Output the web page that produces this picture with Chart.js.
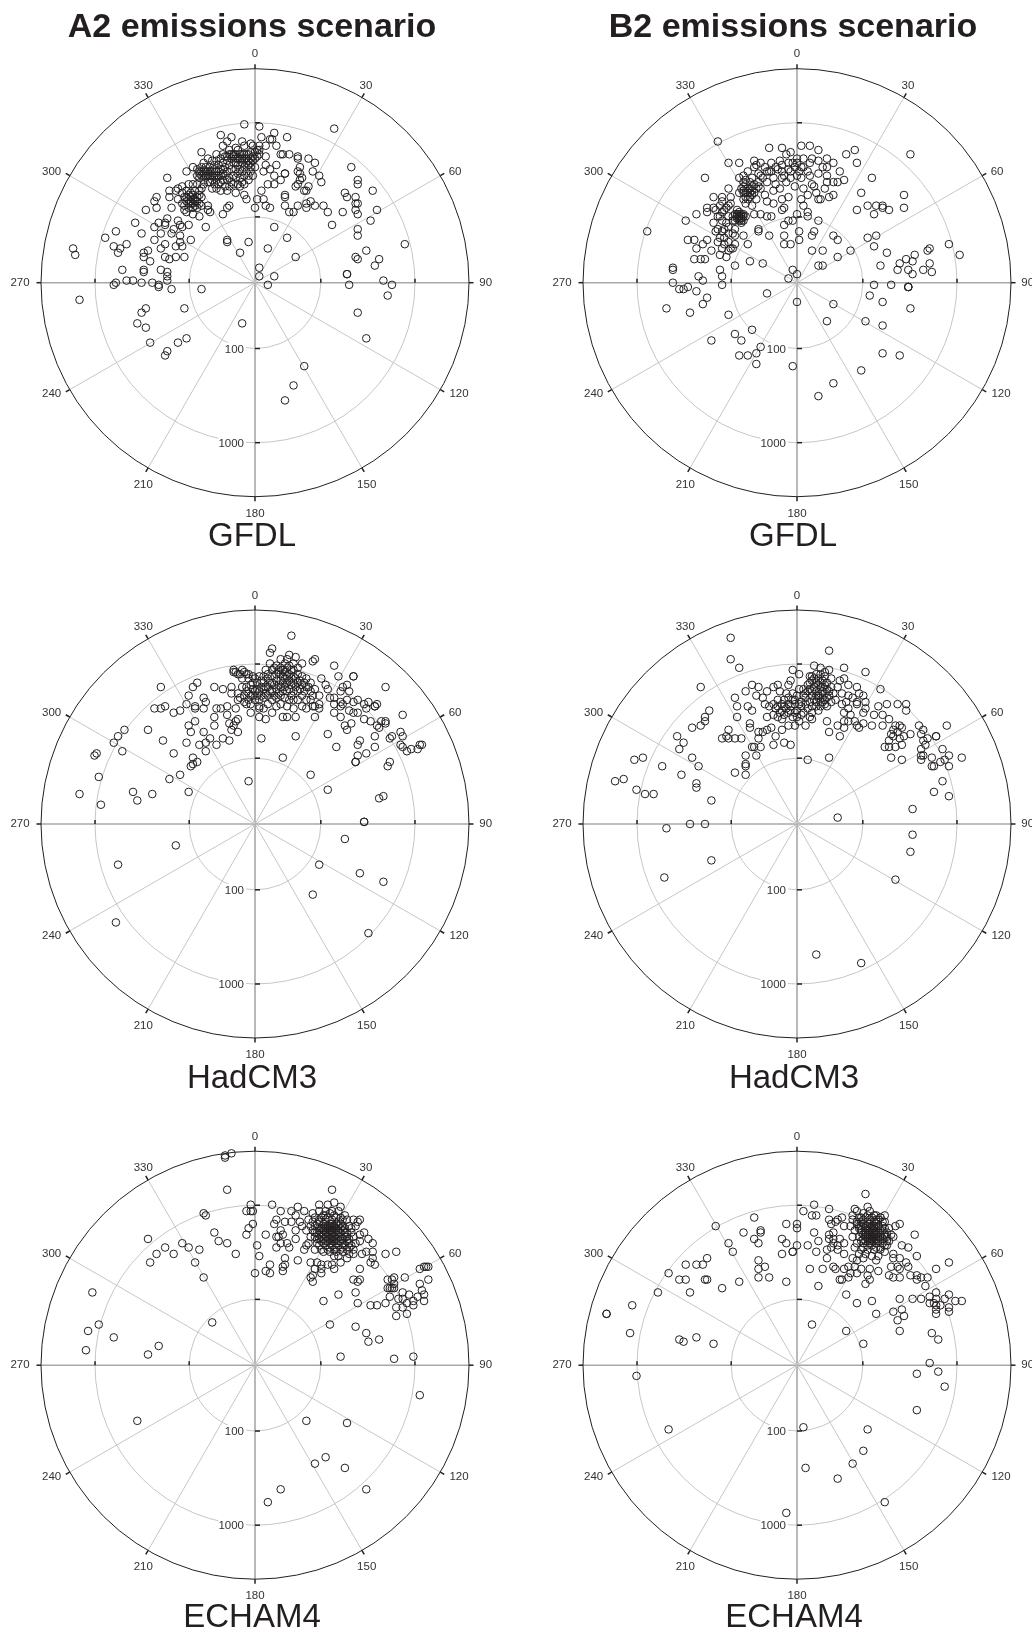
<!DOCTYPE html>
<html>
<head>
<meta charset="utf-8">
<title>Emissions scenarios</title>
<script src="https://cdn.jsdelivr.net/npm/chart.js@4"></script>
<style>
  html, body { margin: 0; padding: 0; background: #fff; }
  #page { position: relative; width: 1032px; height: 1633px; overflow: hidden; font-family: "Liberation Sans", sans-serif; color: #231f20; }
  #page canvas { position: absolute; }
  .titulo, .modelo { position: absolute; width: 516px; text-align: center; line-height: 1; white-space: nowrap; }
  .titulo { font-weight: bold; font-size: 34px; }
  .modelo { font-size: 33px; }
</style>
</head>
<body>
<div id="page"></div>
<script>
// Rotulos
const scenarios = ['A2 emissions scenario', 'B2 emissions scenario'];
const models = ['GFDL', 'HadCM3', 'ECHAM4'];
const angleTicks = [0, 30, 60, 90, 120, 150, 180, 210, 240, 270, 300, 330];
const ringValues = [100, 1000];

// Valores: [leste, norte] em % do raio do grafico
const a2Gfdl = [[-5,74],[2,73],[37,72],[-16,69],[-11,68],[-6,66],[3,68],[9,70],[8,67],[15,68],[7,67],[-13,66],[-15,64],[-25,61],[10,64],[5,64],[2,64],[-2,65],[-1,64],[-5,64],[-9,63],[-8,62],[-10,60],[-12,62],[-3,60],[0,61],[2,62],[5,59],[12,60],[13,60],[16,60],[20,59],[20,58],[25,58],[28,56],[27,52],[30,50],[31,47],[21,54],[20,52],[21,51],[22,49],[21,48],[20,46],[19,45],[25,45],[23,43],[24,43],[14,51],[14,51],[10,55],[5,55],[7,53],[4,52],[9,50],[12,48],[6,46],[9,46],[14,41],[14,40],[3,43],[1,39],[4,39],[5,36],[7,35],[14,36],[16,33],[18,33],[20,36],[24,37],[26,38],[24,35],[28,36],[32,36],[34,33],[41,33],[36,27],[45,54],[48,48],[48,46],[42,42],[43,40],[47,40],[55,43],[47,37],[48,37],[47,34],[48,32],[57,34],[54,29],[48,25],[48,22],[70,18],[52,15],[47,12],[48,11],[58,11],[56,8],[43,4],[43,4],[60,1],[64,-1],[44,-1],[62,-6],[48,-14],[52,-26],[23,-39],[18,-48],[14,-55],[-6,-19],[-25,-3],[-33,-12],[9,26],[15,21],[6,16],[19,12],[2,7],[2,3],[9,3],[6,-1],[-3,19],[-7,14],[-13,20],[-13,19],[0,35],[-4,39],[-5,41],[-9,42],[-12,36],[-13,35],[-15,32],[-23,26],[-21,33],[-22,34],[-22,36],[-26,31],[-29,32],[-32,33],[-30,37],[-29,39],[-27,38],[-33,36],[-31,41],[-26,43],[-34,45],[-36,44],[-37,43],[-40,43],[-40,40],[-41,49],[-32,52],[-29,54],[-36,39],[-39,35],[-46,40],[-47,38],[-46,35],[-51,34],[-56,28],[-65,24],[-70,21],[-53,23],[-47,26],[-45,28],[-42,28],[-42,27],[-41,30],[-36,29],[-35,27],[-34,26],[-38,25],[-39,23],[-31,27],[-35,22],[-44,23],[-47,20],[-30,20],[-35,19],[-34,17],[-37,17],[-33,12],[-37,12],[-42,18],[-44,16],[-50,15],[-52,14],[-52,12],[-60,18],[-66,17],[-63,16],[-64,14],[-42,12],[-40,11],[-49,10],[-52,6],[-52,5],[-62,6],[-44,6],[-41,5],[-41,3],[-60,1],[-57,1],[-65,0],[-66,-1],[-53,0],[-48,0],[-45,-1],[-45,-2],[-41,1],[-39,-3],[-85,16],[-84,13],[-82,-8],[-51,-12],[-53,-14],[-55,-19],[-51,-21],[-49,-28],[-36,-28],[-32,-26],[-41,-32],[-42,-34],[-27,53],[-26,52],[-27,50],[-25,54],[-25,50],[-24,52],[-24,48],[-23,54],[-23,50],[-22,47],[-22,52],[-26,49],[-24,46],[-21,54],[-21,50],[-21,47],[-20,52],[-20,48],[-20,44],[-19,55],[-19,50],[-19,46],[-18,57],[-18,52],[-18,48],[-18,44],[-17,55],[-17,50],[-17,46],[-16,58],[-16,53],[-16,47],[-16,43],[-15,60],[-15,56],[-15,51],[-14,59],[-14,54],[-14,45],[-13,57],[-13,52],[-13,48],[-13,43],[-12,60],[-12,55],[-12,49],[-12,45],[-11,58],[-11,53],[-11,47],[-10,56],[-10,50],[-10,46],[-9,58],[-9,53],[-9,49],[-8,55],[-8,51],[-8,46],[-7,58],[-7,53],[-7,49],[-7,45],[-6,56],[-6,52],[-6,47],[-5,58],[-5,54],[-5,50],[-5,46],[-4,56],[-4,52],[-3,55],[-3,50],[-3,48],[-2,58],[-2,54],[-2,52],[-1,57],[-1,50],[0,58],[0,54],[1,59],[1,62],[2,60],[-4,60],[-2,61],[-6,60],[-9,60],[-24,56],[-22,58],[-20,57],[-18,60],[-34,42],[-33,40],[-32,38],[-31,39],[-30,42],[-30,38],[-29,35],[-29,41],[-28,39],[-28,36],[-27,35],[-26,37],[-26,41],[-25,36],[-25,40],[-31,35],[-33,34],[-34,37],[-32,43],[-28,43],[-27,46],[-29,46],[-31,46],[-25,44],[-26,51],[-25,52],[-24,50],[-23,52],[-22,50],[-21,52],[-20,50],[-19,53],[-18,50],[-17,52],[-16,50],[-15,53],[-15,48],[-14,50],[-10,59],[-9,56],[-8,58],[-7,60],[-6,58],[-5,60],[-4,58],[-3,57],[-2,56],[-1,59],[-13,59],[-11,60],[-30,40],[-29,37],[-28,38],[-27,40],[-32,40],[-31,37]];

const b2Gfdl = [[-37,66],[-13,63],[-7,63],[-5,60],[-3,61],[2,64],[6,64],[10,62],[27,62],[23,60],[28,56],[53,60],[-32,56],[-27,56],[-43,49],[35,49],[30,42],[50,41],[50,35],[28,34],[33,36],[37,36],[40,36],[40,35],[43,34],[36,32],[22,48],[20,52],[19,47],[17,56],[14,58],[14,54],[12,54],[10,57],[7,58],[6,56],[3,58],[0,58],[17,47],[14,47],[14,50],[10,51],[7,46],[8,45],[13,44],[9,42],[10,39],[11,39],[15,40],[17,41],[5,41],[2,39],[3,36],[5,33],[5,31],[0,32],[10,29],[-2,29],[-4,29],[-6,27],[1,24],[1,20],[8,24],[7,22],[17,22],[19,20],[25,15],[7,15],[12,15],[19,12],[10,8],[12,8],[-6,22],[-6,18],[-3,18],[-2,6],[0,4],[-4,2],[-14,-5],[0,-9],[17,-10],[14,-18],[32,-18],[40,-20],[40,-9],[34,-6],[36,-1],[44,-1],[52,-2],[52,-2],[52,-2],[53,-12],[40,-33],[48,-34],[30,-41],[17,-47],[10,-53],[-2,-39],[-19,-38],[-19,-33],[-17,-30],[-23,-34],[-27,-34],[-26,-27],[-29,-24],[-21,-22],[-40,-27],[-32,-15],[-44,-10],[-42,-7],[-50,-14],[-61,-12],[-47,-4],[-51,-2],[-53,-3],[-55,-3],[-58,0],[-58,7],[-58,6],[-46,3],[-44,1],[-35,-1],[-35,3],[-36,6],[-29,8],[-22,10],[-16,9],[33,21],[37,22],[36,17],[42,14],[39,8],[71,18],[76,13],[62,16],[61,15],[55,13],[51,11],[54,10],[48,9],[62,9],[47,6],[52,6],[54,4],[59,6],[63,5],[-70,24],[-52,29],[-47,32],[-51,20],[-48,20],[-47,16],[-44,18],[-42,20],[-40,15],[-48,11],[-45,11],[-43,11],[-39,40],[-35,40],[-32,44],[-31,40],[-42,35],[-42,33],[-39,35],[-38,34],[-36,36],[-35,38],[-32,36],[-31,37],[-35,33],[-32,31],[-39,28],[-37,25],[-35,24],[-33,28],[-38,24],[-34,21],[-32,23],[-29,25],[-29,22],[-37,19],[-35,16],[-36,13],[-33,12],[-32,15],[-30,16],[-29,18],[-32,19],[-25,22],[-23,18],[-26,29],[-28,31],[-27,33],[-25,32],[-25,29],[-29,32],[-29,29],[-30,29],[-27,30],[-26,31],[-28,34],[-24,31],[-27,31],[-26,30],[-28,30],[-20,57],[-19,55],[-20,54],[-17,56],[-12,56],[-8,57],[-7,55],[-4,56],[-27,49],[-25,50],[-23,52],[-21,49],[-24,48],[-25,45],[-27,42],[-25,39],[-23,44],[-22,40],[-24,37],[-21,36],[-19,39],[-20,32],[-17,32],[-14,31],[-12,31],[-18,25],[-18,24],[-13,22],[-7,34],[-6,35],[-7,39],[-4,40],[-14,38],[-11,37],[-15,41],[-17,44],[-16,49],[-14,47],[-11,49],[-10,46],[-7,49],[-5,47],[-3,49],[0,50],[1,52],[3,54],[6,50],[2,49],[-1,45],[3,44],[-8,44],[-11,43],[-13,52],[-10,54],[-7,52],[-4,53],[-1,54],[0,56],[-15,54],[-18,51],[-18,47],[-21,45],[-20,42],[-22,47],[-25,42],[-24,40],[-23,39],[-21,41],[-24,42],[-24,46],[-23,42],[-22,44],[-22,42],[-21,43],[-20,46],[-19,44],[-18,45],[-25,47],[-26,44],[-25,43],[-17,50],[-14,52],[-12,52],[-9,53],[-6,50],[-3,52],[-2,56],[2,54],[5,52],[-28,32],[-27,32],[-26,32],[-25,31],[-27,29],[-26,28],[-30,31],[-34,34],[-33,35],[-36,31],[-37,31],[-35,29],[-32,26],[-34,25],[-30,23],[-34,18],[-31,16],[-36,21]];

const a2Had = [[17,88],[7,80],[8,82],[37,74],[39,69],[27,76],[28,77],[46,69],[46,69],[61,64],[43,65],[41,64],[69,51],[68,43],[69,41],[64,41],[63,40],[68,37],[69,36],[71,34],[73,35],[76,35],[77,37],[78,37],[56,41],[56,36],[52,33],[49,39],[48,37],[48,32],[47,29],[47,29],[63,29],[62,27],[60,13],[58,12],[51,1],[51,1],[42,-7],[30,-19],[49,-23],[60,-27],[27,-33],[53,-51],[34,16],[26,23],[13,31],[-3,20],[19,41],[34,42],[38,36],[43,44],[42,46],[45,47],[3,40],[37,59],[40,57],[43,58],[46,57],[48,58],[53,57],[56,55],[57,56],[56,55],[52,54],[48,52],[44,53],[40,55],[37,52],[40,50],[51,49],[54,48],[57,46],[59,48],[61,47],[61,48],[58,45],[44,62],[40,62],[34,63],[31,68],[33,65],[35,59],[30,56],[27,55],[24,54],[28,50],[37,56],[41,56],[46,52],[51,56],[16,79],[19,78],[22,75],[15,77],[12,77],[7,75],[18,75],[20,73],[5,72],[8,72],[10,74],[12,73],[14,75],[16,74],[18,72],[10,70],[12,70],[14,71],[16,70],[18,69],[20,70],[22,69],[24,68],[26,66],[6,68],[8,69],[8,66],[10,67],[12,67],[14,68],[16,67],[18,66],[20,66],[22,65],[24,64],[26,62],[28,63],[30,60],[4,66],[4,63],[6,64],[8,62],[10,63],[12,64],[14,64],[16,63],[18,62],[20,62],[2,62],[0,62],[-2,60],[-3,58],[-4,62],[1,66],[2,69],[-1,69],[0,68],[-5,71],[-7,70],[-9,71],[-10,72],[-3,68],[-2,65],[0,58],[2,58],[4,59],[6,60],[8,58],[10,59],[12,60],[14,59],[16,58],[18,58],[20,58],[22,60],[24,58],[26,58],[28,55],[30,54],[-5,60],[-4,56],[-2,56],[2,54],[4,54],[6,56],[10,55],[12,56],[15,55],[18,54],[22,55],[2,50],[5,49],[8,52],[13,50],[15,50],[19,50],[-2,52],[2,55],[-6,72],[-10,71],[-8,70],[-3,70],[-19,64],[-15,63],[-11,64],[-11,61],[-8,61],[-7,59],[-5,57],[-8,58],[-9,54],[-13,55],[-16,54],[-18,54],[-8,49],[-9,48],[-12,47],[-10,46],[-11,44],[-8,43],[-13,51],[-19,50],[-19,46],[-27,66],[-29,64],[-31,60],[-24,59],[-23,57],[-32,56],[-28,55],[-24,54],[-28,54],[-44,64],[-42,55],[-44,54],[-47,54],[-38,52],[-35,53],[-28,48],[-31,46],[-30,43],[-24,43],[-50,44],[-43,39],[-32,38],[-26,37],[-23,38],[-21,40],[-18,37],[-15,40],[-12,39],[-23,34],[-38,33],[-29,31],[-27,29],[-29,28],[-30,27],[-35,23],[-40,21],[-31,15],[-48,14],[-57,15],[-55,11],[-61,44],[-64,41],[-66,38],[-62,34],[-74,33],[-75,32],[-73,22],[-82,14],[-72,9],[-37,-10],[-64,-19],[-65,-46],[11,71],[13,69],[15,69],[17,68],[13,66],[15,66],[17,65],[11,65],[9,65],[7,66],[5,64],[3,64],[7,62],[9,60],[11,61],[13,62],[15,62],[17,60],[19,64],[21,63],[23,62],[19,68],[21,67],[23,66],[25,64],[27,60],[1,60],[-1,60],[3,60],[5,61],[13,72],[15,73],[17,72],[11,72],[9,73],[6,70],[4,69],[3,67],[-4,64],[-6,64],[-6,68],[-4,70],[-1,66],[-3,61],[-1,63],[1,63]];

const b2Had = [[-31,87],[-31,77],[-27,73],[15,81],[-45,64],[32,71],[22,73],[39,63],[42,56],[47,56],[51,56],[51,53],[70,46],[65,41],[68,35],[71,32],[77,31],[69,30],[67,29],[71,27],[68,20],[64,15],[71,13],[54,7],[54,-5],[53,-13],[46,-26],[30,-65],[9,-61],[19,3],[5,30],[15,31],[20,41],[15,43],[14,48],[19,46],[32,54],[36,51],[40,51],[38,55],[43,49],[40,46],[46,46],[49,45],[44,42],[47,43],[50,41],[53,42],[43,39],[48,40],[41,36],[43,36],[46,36],[49,37],[44,31],[49,30],[57,46],[59,44],[58,42],[61,40],[65,41],[59,39],[60,37],[58,35],[58,32],[59,32],[58,30],[63,31],[63,27],[64,27],[45,44],[48,46],[45,41],[24,65],[28,64],[24,60],[29,61],[31,60],[22,68],[20,67],[19,64],[21,61],[23,57],[26,59],[28,57],[32,57],[21,56],[24,54],[28,56],[31,52],[22,52],[25,51],[22,48],[24,48],[28,46],[29,45],[31,47],[35,46],[22,45],[27,48],[8,74],[11,73],[15,72],[6,69],[9,70],[13,69],[16,68],[7,67],[10,68],[14,66],[5,65],[8,64],[11,64],[14,63],[17,61],[6,63],[9,62],[12,62],[15,60],[4,61],[7,60],[10,60],[14,59],[10,59],[12,59],[8,58],[11,57],[13,56],[6,57],[3,60],[1,63],[4,59],[14,55],[11,55],[10,53],[7,52],[6,50],[2,51],[7,49],[4,46],[-1,46],[-4,46],[1,48],[-2,72],[1,70],[-3,67],[-4,65],[-9,65],[-11,64],[-8,62],[-5,61],[-2,61],[0,60],[-4,59],[-1,58],[-6,58],[-9,58],[-11,56],[-7,56],[-4,56],[-1,56],[1,56],[-10,54],[-7,53],[-4,52],[0,53],[-13,55],[-8,52],[-11,51],[-14,50],[-7,49],[-2,50],[3,52],[-15,56],[-14,62],[-18,64],[-21,65],[-24,62],[-19,60],[-16,59],[-29,59],[-28,55],[-23,55],[-21,53],[-28,50],[-22,47],[-22,45],[-18,43],[-16,43],[-14,44],[-12,45],[-7,44],[-10,41],[-18,40],[-11,37],[-6,38],[-3,37],[-17,36],[-20,36],[-21,36],[-19,32],[-24,32],[-24,28],[-24,27],[-24,23],[-29,24],[-41,53],[-43,50],[-43,48],[-45,46],[-49,45],[-32,44],[-33,41],[-35,40],[-32,40],[-29,40],[-26,40],[-56,41],[-53,38],[-55,35],[-72,31],[-76,30],[-63,27],[-49,31],[-46,27],[-54,23],[-47,19],[-47,17],[-40,11],[-67,14],[-71,14],[-75,16],[-81,21],[-85,20],[-50,0],[-43,0],[-61,-2],[-40,-17],[-62,-25],[9,66],[11,66],[13,65],[12,67],[8,68],[6,66],[7,62],[5,62],[3,63],[9,60],[11,61],[13,61],[15,62],[16,64],[13,58],[9,57],[12,57],[7,55],[5,54],[9,55],[-3,55],[-5,54],[-2,58],[-6,55],[-9,55],[-3,53],[-6,51],[-9,50],[0,50],[-1,52],[2,55],[4,56],[2,57],[16,57],[18,58],[12,64],[10,65],[7,69],[11,70],[13,71]];

const a2Echam = [[-11,99],[-14,98],[-14,97],[-13,82],[36,82],[-76,34],[-73,19],[-78,16],[-66,13],[-79,7],[-45,9],[-50,5],[-20,20],[-55,-26],[24,-26],[43,-27],[33,-43],[28,-46],[42,-48],[52,-58],[12,-58],[6,-64],[77,-14],[74,4],[65,3],[40,4],[58,12],[53,11],[52,15],[47,18],[35,19],[32,30],[39,33],[47,34],[48,29],[54,28],[57,28],[61,29],[-50,59],[-49,48],[-46,52],[-42,55],[-38,52],[-34,57],[-31,55],[-26,54],[-28,48],[-24,41],[-24,71],[-23,70],[-19,62],[-17,58],[-13,57],[-9,52],[-4,72],[-2,72],[-1,72],[-2,75],[-1,66],[-3,64],[-4,61],[5,61],[1,56],[2,51],[0,43],[5,44],[7,43],[7,47],[8,75],[12,72],[10,68],[9,66],[14,67],[12,63],[17,72],[20,74],[19,70],[17,67],[21,67],[10,60],[11,60],[13,61],[12,57],[15,57],[16,55],[10,55],[14,50],[14,47],[13,46],[13,44],[20,49],[19,59],[19,63],[23,72],[23,54],[24,56],[22,65],[30,75],[34,75],[37,76],[40,74],[27,71],[30,72],[33,72],[36,72],[39,72],[42,70],[25,68],[28,69],[31,69],[34,69],[37,70],[40,69],[43,68],[46,68],[48,67],[26,65],[29,66],[32,66],[35,66],[38,66],[41,65],[44,65],[47,65],[24,63],[27,63],[30,63],[33,63],[36,63],[39,63],[42,62],[45,62],[26,60],[28,60],[31,60],[34,60],[37,60],[40,60],[43,60],[46,60],[25,57],[29,57],[32,57],[35,57],[38,57],[41,57],[44,57],[47,57],[28,54],[31,54],[34,54],[37,54],[40,54],[43,54],[46,54],[49,58],[29,62],[32,61],[35,61],[38,61],[31,64],[34,64],[37,64],[40,64],[33,58],[36,58],[39,58],[30,59],[33,65],[36,65],[39,67],[36,68],[33,68],[30,67],[27,67],[35,55],[38,55],[41,55],[44,55],[51,62],[53,59],[55,57],[49,61],[49,68],[55,53],[52,53],[50,52],[55,50],[56,47],[54,48],[61,52],[66,53],[46,52],[43,50],[39,51],[37,51],[40,48],[36,47],[37,45],[34,47],[31,47],[29,48],[26,48],[28,45],[31,45],[31,43],[27,42],[26,41],[27,39],[46,40],[49,40],[48,39],[49,45],[62,40],[64,40],[62,36],[63,36],[65,36],[63,32],[65,41],[70,41],[69,34],[72,33],[67,31],[66,27],[69,27],[71,24],[66,23],[71,29],[74,28],[74,30],[76,32],[77,38],[78,35],[79,33],[79,30],[77,45],[79,46],[81,46],[80,46],[81,40],[65,38],[64,36],[69,31],[32,70],[35,71],[38,69],[41,68],[30,68],[33,70],[28,65],[30,64],[33,64],[36,66],[39,65],[42,64],[45,64],[28,62],[31,62],[34,62],[37,62],[40,62],[43,62],[29,59],[32,59],[35,59],[38,59],[41,59],[44,59],[30,56],[33,56],[36,56],[39,56],[42,56],[45,56],[32,53],[35,53],[38,53],[41,53],[44,52],[30,61],[33,60],[36,60],[39,60],[42,60],[31,58],[34,58],[37,58],[40,58],[43,58],[32,64],[35,64],[38,64],[41,63],[33,62],[36,62],[39,62],[34,65],[37,65],[40,66],[36,59],[38,63],[35,63],[32,63]];

const b2Echam = [[32,80],[33,74],[55,61],[56,51],[71,48],[65,45],[61,41],[60,37],[65,34],[71,33],[77,30],[74,30],[69,31],[65,31],[62,32],[58,31],[54,31],[48,31],[62,29],[64,29],[65,28],[67,28],[65,26],[65,24],[71,27],[71,25],[45,25],[49,26],[50,23],[47,21],[48,16],[63,15],[66,12],[62,1],[56,-4],[66,-3],[69,-10],[56,-21],[33,-30],[31,-40],[26,-46],[19,-53],[4,-48],[3,-29],[41,-64],[-5,-69],[-60,-30],[-75,-5],[-39,10],[-47,13],[-53,11],[-55,12],[-78,15],[-89,24],[-89,24],[-77,28],[-65,34],[-50,34],[-55,40],[-52,40],[-43,40],[-42,40],[-35,36],[-27,39],[-60,43],[-52,47],[-47,47],[-44,47],[-42,50],[-38,65],[-32,57],[-30,53],[-25,62],[-20,69],[-17,63],[-17,62],[-20,59],[-18,57],[-7,59],[-5,57],[-5,66],[0,66],[0,64],[0,56],[-2,53],[-2,53],[-7,52],[-18,49],[-15,46],[-18,45],[-18,41],[-13,41],[-5,39],[3,72],[8,75],[9,70],[7,70],[15,73],[8,62],[5,56],[10,58],[9,53],[14,50],[6,45],[12,45],[10,37],[7,19],[23,16],[31,10],[23,33],[28,29],[35,30],[37,24],[17,46],[18,45],[22,45],[24,46],[27,46],[30,45],[25,43],[28,43],[24,41],[20,40],[21,40],[33,42],[34,40],[32,38],[34,45],[37,49],[38,44],[44,46],[43,42],[45,41],[48,41],[48,45],[47,46],[52,46],[53,42],[56,42],[56,40],[58,41],[51,48],[52,55],[49,56],[48,50],[45,50],[45,52],[45,60],[46,65],[48,66],[41,70],[39,69],[15,68],[16,66],[18,67],[21,69],[19,68],[22,65],[15,61],[17,62],[15,59],[17,59],[20,59],[17,57],[19,56],[22,57],[14,54],[16,55],[19,54],[22,52],[26,70],[27,73],[26,50],[31,50],[28,49],[28,72],[31,71],[34,72],[37,70],[26,68],[29,69],[32,69],[35,69],[38,68],[41,67],[25,65],[28,66],[31,66],[34,66],[37,66],[40,65],[43,64],[27,63],[30,63],[33,63],[36,63],[39,63],[42,62],[44,61],[26,60],[29,60],[32,60],[35,60],[38,60],[41,60],[43,58],[28,57],[31,57],[34,57],[37,57],[40,57],[42,56],[27,55],[30,54],[33,54],[36,54],[39,54],[41,53],[29,52],[32,52],[35,51],[38,51],[33,65],[36,65],[30,65],[33,61],[36,61],[39,61],[35,58],[38,58],[32,62],[29,64],[31,59],[34,59],[37,59],[34,62],[37,62],[33,67],[36,67],[30,67],[30,69],[33,70],[36,70],[39,69],[28,67],[31,68],[34,68],[37,68],[40,67],[29,65],[32,65],[35,65],[38,65],[41,64],[30,62],[32,64],[34,64],[36,64],[38,64],[40,63],[42,60],[31,61],[33,60],[35,62],[37,61],[39,60],[41,61],[30,58],[32,58],[34,58],[36,58],[38,59],[40,59],[42,58],[31,55],[33,56],[35,56],[37,55],[39,55],[41,56],[32,63],[34,63],[36,62],[38,62],[33,59],[35,59],[37,60],[36,60],[34,61],[32,61]];

// Raio (em %) de um valor na escala log do eixo radial
function raioDe(valor) {
  return 44 * Math.log10(valor / 20);
}

// Deslocamento em px de cada rotulo de angulo
const offsetRotulo = {
  0: [0, -14.5], 30: [4, -12], 60: [14.7, -4], 90: [16.7, 0],
  120: [18.7, 4.6], 150: [4.7, 16.5], 180: [0, 17], 210: [-4.7, 16.5],
  240: [-18, 4.6], 270: [-21, 0], 300: [-18, -4], 330: [-4.7, -12]
};

// Desenha aneis, raios, marcas e rotulos usando as escalas do grafico
const gradePolar = {
  id: 'gradePolar',
  beforeDatasetsDraw(chart) {
    const { ctx, scales: { x, y } } = chart;
    const cx = x.getPixelForValue(0);
    const cy = y.getPixelForValue(0);
    const rx = x.getPixelForValue(100) - cx;
    const ry = cy - y.getPixelForValue(100);
    const linha = (x1, y1, x2, y2) => {
      ctx.beginPath();
      ctx.moveTo(x1, y1);
      ctx.lineTo(x2, y2);
      ctx.stroke();
    };

    ctx.save();

    // Aneis
    ctx.strokeStyle = '#c6c6c6';
    ctx.lineWidth = 1;
    ringValues.forEach(v => {
      const r = raioDe(v) / 100;
      ctx.beginPath();
      ctx.ellipse(cx, cy, rx * r, ry * r, 0, 0, Math.PI * 2);
      ctx.stroke();
    });

    // Raios
    angleTicks.forEach(a => {
      const t = a * Math.PI / 180;
      const ex = cx + rx * Math.sin(t);
      const ey = cy - ry * Math.cos(t);
      const eixo = a % 90 === 0;
      ctx.strokeStyle = eixo ? '#a8a8a8' : '#c6c6c6';
      ctx.lineWidth = eixo ? 1.6 : 1;
      linha(cx, cy, ex, ey);
    });

    // Contorno externo
    ctx.strokeStyle = '#231f20';
    ctx.lineWidth = 1;
    ctx.beginPath();
    ctx.ellipse(cx, cy, rx, ry, 0, 0, Math.PI * 2);
    ctx.stroke();

    // Marcas no contorno
    ctx.lineWidth = 1.5;
    angleTicks.forEach(a => {
      const t = a * Math.PI / 180;
      const s = Math.sin(t);
      const c = Math.cos(t);
      linha(cx + rx * s, cy - ry * c, cx + (rx + 4.5) * s, cy - (ry + 4.5) * c);
    });

    // Marcas nos aneis
    ringValues.forEach(v => {
      const r = raioDe(v) / 100;
      [-1, 1].forEach(l => {
        linha(cx + l * rx * r, cy, cx + l * rx * r, cy - 4);
        linha(cx, cy + l * ry * r, cx + 5, cy + l * ry * r);
      });
    });

    // Rotulos
    ctx.font = '11.5px "Liberation Sans", sans-serif';
    ctx.fillStyle = '#333';
    ctx.textBaseline = 'middle';
    ctx.textAlign = 'center';
    angleTicks.forEach(a => {
      const t = a * Math.PI / 180;
      const o = offsetRotulo[a];
      ctx.fillText(String(a), cx + rx * Math.sin(t) + o[0], cy - ry * Math.cos(t) + o[1]);
    });

    ctx.textAlign = 'right';
    ringValues.forEach(v => {
      const py = cy + ry * raioDe(v) / 100;
      const w = ctx.measureText(String(v)).width;
      ctx.fillStyle = '#fff';
      ctx.fillRect(cx - 11 - w, py - 6, w + 2, 12);
      ctx.fillStyle = '#333';
      ctx.fillText(String(v), cx - 11, py + 1);
    });

    ctx.restore();
  }
};

const page = document.getElementById('page');

// Cria um painel
function criarPainel(dados, col, top, height, cy) {
  const raio = 214;
  const cv = document.createElement('canvas');
  cv.width = 516;
  cv.height = height;
  cv.style.left = (col * 516) + 'px';
  cv.style.top = top + 'px';
  page.appendChild(cv);

  const cx = col === 0 ? 255 : 281;
  new Chart(cv, {
    type: 'scatter',
    data: {
      datasets: [{
        data: dados.map(p => ({ x: p[0], y: p[1] })),
        pointRadius: 3.8,
        pointBorderWidth: 1,
        pointBackgroundColor: 'rgba(0,0,0,0)',
        pointBorderColor: '#231f20',
        clip: false
      }]
    },
    options: {
      responsive: false,
      animation: false,
      devicePixelRatio: 1,
      layout: { padding: { left: cx - raio, right: 516 - cx - raio, top: cy - raio - top, bottom: top + height - cy - raio } },
      scales: {
        x: { type: 'linear', display: false, min: -100, max: 100 },
        y: { type: 'linear', display: false, min: -100, max: 100 }
      },
      plugins: { legend: { display: false }, tooltip: { enabled: false } }
    },
    plugins: [gradePolar]
  });
}

function criarTexto(classe, texto, left, top) {
  const d = document.createElement('div');
  d.className = classe;
  d.textContent = texto;
  d.style.left = left + 'px';
  d.style.top = top + 'px';
  page.appendChild(d);
}

criarPainel(a2Gfdl, 0, 0, 540, 282.7);
criarPainel(b2Gfdl, 1, 0, 540, 282.7);
criarPainel(a2Had, 0, 540, 540, 824);
criarPainel(b2Had, 1, 540, 540, 824);
criarPainel(a2Echam, 0, 1080, 553, 1365.2);
criarPainel(b2Echam, 1, 1080, 553, 1365.2);

criarTexto('titulo', scenarios[0], -6, 8);
criarTexto('titulo', scenarios[1], 535, 8);
criarTexto('modelo', models[0], -6, 518);
criarTexto('modelo', models[0], 535, 518);
criarTexto('modelo', models[1], -6, 1060);
criarTexto('modelo', models[1], 536, 1060);
criarTexto('modelo', models[2], -6, 1599);
criarTexto('modelo', models[2], 536, 1599);
</script>
</body>
</html>
